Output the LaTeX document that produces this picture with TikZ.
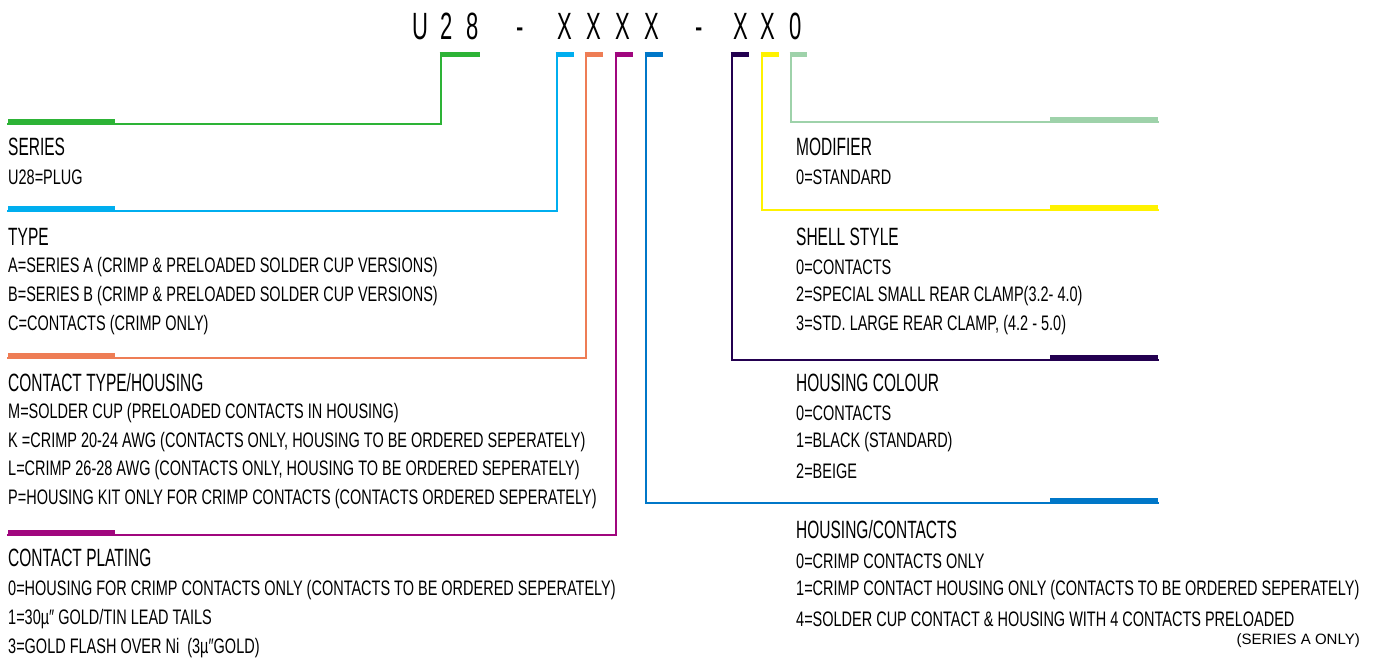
\documentclass[tikz,border=0pt]{standalone}
\usepackage{fontspec}
\setmainfont{Liberation Sans}[FakeStretch=0.69]
\newfontfamily\headfont{Liberation Sans}[FakeStretch=0.62]
\newfontfamily\codefont{Liberation Sans}[FakeStretch=0.58]
\newfontfamily\notefont{Liberation Sans}
\usetikzlibrary{positioning}
\definecolor{sercol}{RGB}{45,179,54}
\definecolor{typcol}{RGB}{0,174,239}
\definecolor{ctycol}{RGB}{238,125,85}
\definecolor{plccol}{RGB}{160,6,126}
\definecolor{hcocol}{RGB}{0,119,200}
\definecolor{colcol}{RGB}{35,0,80}
\definecolor{shlcol}{RGB}{255,242,0}
\definecolor{modcol}{RGB}{158,210,170}
\begin{document}
\begin{tikzpicture}[x=1pt,y=-1pt,
    code/.style={anchor=base,inner sep=0pt,font=\codefont\fontsize{38}{40}\selectfont},
    head/.style={anchor=west,inner sep=0pt,font=\headfont\fontsize{25}{28}\selectfont},
    line/.style={anchor=west,inner sep=0pt,font=\fontsize{21}{25}\selectfont},
    link/.style={line width=2.6pt,line cap=rect},
    tab/.style={line width=6pt}]
  \useasboundingbox (0,0) rectangle (1373,661);

  % part number
  \draw
    (420,40) node[code] (cU){U}
    (447,40) node[code] (c2){2}
    (473,40) node[code] (c8){8}
    (520,40) node[code] (d1){-}
    (565,40) node[code] (x1){X}
    (594,40) node[code] (x2){X}
    (623,40) node[code] (x3){X}
    (652,40) node[code] (x4){X}
    (699,40) node[code] (d2){-}
    (741,40) node[code] (x5){X}
    (768,40) node[code] (x6){X}
    (796,40) node[code] (c0){0};

  % left keys
  \node[head] (ser) at (8,147) {SERIES};
  \node[line] (ser1) at (8,177) {U28=PLUG};

  \node[head] (typ) at (8,237) {TYPE};
  \node[line] (typ1) at (8,267) {A=SERIES A (CRIMP \& PRELOADED SOLDER CUP VERSIONS)};
  \node[line] (typ2) at (8,296) {B=SERIES B (CRIMP \& PRELOADED SOLDER CUP VERSIONS)};
  \node[line] (typ3) at (8,325) {C=CONTACTS (CRIMP ONLY)};

  \node[head] (cty) at (8,383) {CONTACT TYPE/HOUSING};
  \node[line] (cty1) at (8,413) {M=SOLDER CUP (PRELOADED CONTACTS IN HOUSING)};
  \node[line] (cty2) at (8,442) {K =CRIMP 20-24 AWG (CONTACTS ONLY, HOUSING TO BE ORDERED SEPERATELY)};
  \node[line] (cty3) at (8,470) {L=CRIMP 26-28 AWG (CONTACTS ONLY, HOUSING TO BE ORDERED SEPERATELY)};
  \node[line] (cty4) at (8,499) {P=HOUSING KIT ONLY FOR CRIMP CONTACTS (CONTACTS ORDERED SEPERATELY)};

  \node[head] (plc) at (8,558) {CONTACT PLATING};
  \node[line] (plc1) at (8,590) {0=HOUSING FOR CRIMP CONTACTS ONLY (CONTACTS TO BE ORDERED SEPERATELY)};
  \node[line] (plc2) at (8,619) {1=30µ″ GOLD/TIN LEAD TAILS};
  \node[line] (plc3) at (8,648) {3=GOLD FLASH OVER Ni\ \ (3µ″GOLD)};

  % right keys
  \node[head] (mod) at (796,147) {MODIFIER};
  \node[line] (mod1) at (796,177) {0=STANDARD};

  \node[head] (shl) at (796,237) {SHELL STYLE};
  \node[line] (shl1) at (796,267) {0=CONTACTS};
  \node[line] (shl2) at (796,296) {2=SPECIAL SMALL REAR CLAMP(3.2- 4.0)};
  \node[line] (shl3) at (796,325) {3=STD. LARGE REAR CLAMP, (4.2 - 5.0)};

  \node[head] (col) at (796,383) {HOUSING COLOUR};
  \node[line] (col1) at (796,413) {0=CONTACTS};
  \node[line] (col2) at (796,442) {1=BLACK (STANDARD)};
  \node[line] (col3) at (796,471) {2=BEIGE};

  \node[head] (hco) at (796,530) {HOUSING/CONTACTS};
  \node[line] (hco1) at (796,561) {0=CRIMP CONTACTS ONLY};
  \node[line] (hco2) at (796,590) {1=CRIMP CONTACT HOUSING ONLY (CONTACTS TO BE ORDERED SEPERATELY)};
  \node[line] (hco3) at (796,619) {4=SOLDER CUP CONTACT \& HOUSING WITH 4 CONTACTS PRELOADED};
  \node[anchor=east,inner sep=0pt,font=\notefont\fontsize{15}{17}\selectfont] (hco4) at (1360,641) {(SERIES A ONLY)};

  % tabs under the part number
  \coordinate (serT) at (441,54.5);
  \coordinate (typT) at (557,54.5);
  \coordinate (ctyT) at (586,54.5);
  \coordinate (plcT) at (616,54.5);
  \coordinate (hcoT) at (646,54.5);
  \coordinate (colT) at (732,54.5);
  \coordinate (shlT) at (762,54.5);
  \coordinate (modT) at (791,54.5);

  % tabs at the keys
  \coordinate (serK) at (8,124);
  \coordinate (typK) at (8,211);
  \coordinate (ctyK) at (8,358);
  \coordinate (plcK) at (8,535);
  \coordinate (modK) at (1158,122);
  \coordinate (shlK) at (1158,210);
  \coordinate (colK) at (1158,360);
  \coordinate (hcoK) at (1158,503);

  \begin{scope}[link]
    \draw[sercol] (serT) |- (serK);
    \draw[typcol] (typT) |- (typK);
    \draw[ctycol] (ctyT) |- (ctyK);
    \draw[plccol] (plcT) |- (plcK);
    \draw[hcocol] (hcoT) |- (hcoK);
    \draw[colcol] (colT) |- (colK);
    \draw[shlcol] (shlT) |- (shlK);
    \draw[modcol] (modT) |- (modK);
  \end{scope}

  \begin{scope}[line width=5.5pt]
    \draw[sercol] ([xshift=-1.3pt]serT) -- ++(40,0);
    \draw[typcol] ([xshift=-1.3pt]typT) -- ++(18,0);
    \draw[ctycol] ([xshift=-1.3pt]ctyT) -- ++(18,0);
    \draw[plccol] ([xshift=-1.3pt]plcT) -- ++(18,0);
    \draw[hcocol] ([xshift=-1.3pt]hcoT) -- ++(18,0);
    \draw[colcol] ([xshift=-1.3pt]colT) -- ++(18,0);
    \draw[shlcol] ([xshift=-1.3pt]shlT) -- ++(18,0);
    \draw[modcol] ([xshift=-1.3pt]modT) -- ++(17,0);
  \end{scope}

  \begin{scope}[tab]
    \draw[sercol] ([yshift=1.8pt]serK) -- ++(107,0);
    \draw[typcol] ([yshift=1.8pt]typK) -- ++(107,0);
    \draw[ctycol] ([yshift=1.8pt]ctyK) -- ++(107,0);
    \draw[plccol] ([yshift=1.8pt]plcK) -- ++(107,0);
    \draw[modcol] ([yshift=1.8pt]modK) -- ++(-108,0);
    \draw[shlcol] ([yshift=1.8pt]shlK) -- ++(-108,0);
    \draw[colcol] ([yshift=1.8pt]colK) -- ++(-108,0);
    \draw[hcocol] ([yshift=1.8pt]hcoK) -- ++(-108,0);
  \end{scope}
\end{tikzpicture}
\end{document}
